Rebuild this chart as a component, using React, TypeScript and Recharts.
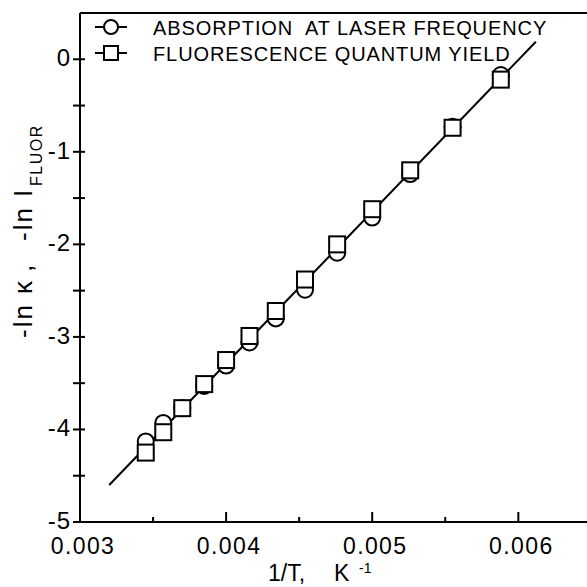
import React from 'react';
import { ScatterChart, Scatter, XAxis, YAxis, ReferenceLine } from 'recharts';

const invT = [0.00345, 0.00357, 0.0037, 0.00385, 0.004, 0.00416, 0.00434, 0.00454, 0.00476, 0.005, 0.00526, 0.00555, 0.00588];
const absorption = [-4.13, -3.93, -3.77, -3.53, -3.31, -3.06, -2.8, -2.49, -2.09, -1.71, -1.24, -0.73, -0.17];
const fluorescence = [-4.25, -4.03, -3.77, -3.51, -3.25, -2.99, -2.72, -2.38, -2.0, -1.62, -1.2, -0.74, -0.22];

// straight-line fit ends
const fitX = [0.0032, 0.00612];
const fitY = [-4.6, 0.19];

const xTicks = [0.003, 0.0035, 0.004, 0.0045, 0.005, 0.0055, 0.006];
const xMajor = ['0.003', '0.004', '0.005', '0.006'];
const yTicks = [-5, -4.5, -4, -3.5, -3, -2.5, -2, -1.5, -1, -0.5, 0];
const yMajor = [-5, -4, -3, -2, -1, 0];

const absData = invT.map((x, i) => ({ x, y: absorption[i] }));
const fluoData = invT.map((x, i) => ({ x, y: fluorescence[i] }));
const fitData = fitX.map((x, i) => ({ x, y: fitY[i] }));

const FONT = '"Liberation Sans", Arial, sans-serif';

const CircleDot = (p: any) => (
  <circle cx={p.cx} cy={p.cy} r={8} fill="#fff" stroke="#000" strokeWidth={2} />
);
const SquareDot = (p: any) => (
  <rect x={p.cx - 8} y={p.cy - 8} width={16} height={16} fill="#fff" stroke="#000" strokeWidth={2} />
);
const NoDot = () => <g />;

const XTick = (p: any) => {
  const v = p.payload.value;
  const label = v.toFixed(3);
  const major = xMajor.includes(label) && Math.abs(v * 1000 - Math.round(v * 1000)) < 1e-6;
  return (
    <g>
      <line x1={p.x} x2={p.x} y1={p.y} y2={p.y - (major ? 10 : 5)} stroke="#000" strokeWidth={2} />
      {major && (
        <text x={p.x + 3} y={p.y + 32} textAnchor="middle" fontSize={23} letterSpacing={1.4} fontFamily={FONT} fill="#000">
          {label}
        </text>
      )}
    </g>
  );
};

const YTick = (p: any) => {
  const v = p.payload.value;
  const major = yMajor.includes(v);
  return (
    <g>
      <line x1={p.x - 7} x2={p.x + 5} y1={p.y} y2={p.y} stroke="#000" strokeWidth={2} />
      {major && (
        <text x={p.x - 9} y={p.y + 7} textAnchor="end" fontSize={24} letterSpacing={1} fontFamily={FONT} fill="#000">
          {v === 0 ? '0' : '-' + Math.abs(v)}
        </text>
      )}
    </g>
  );
};

const LegendBox = () => (
  <svg width={480} height={64} style={{ position: 'absolute', left: 80, top: 10 }}>
    <g fontFamily={FONT} fontSize={20} fill="#000">
      <line x1={15} x2={47} y1={17} y2={17} stroke="#000" strokeWidth={2} />
      <circle cx={31} cy={17} r={7} fill="#fff" stroke="#000" strokeWidth={2} />
      <text x={73} y={25} letterSpacing={0.9} style={{ whiteSpace: 'pre' }}>ABSORPTION  AT LASER FREQUENCY</text>
      <line x1={15} x2={47} y1={43} y2={43} stroke="#000" strokeWidth={2} />
      <rect x={24} y={36} width={14} height={14} fill="#fff" stroke="#000" strokeWidth={2} />
      <text x={73} y={51} letterSpacing={0.9} style={{ whiteSpace: 'pre' }}>FLUORESCENCE QUANTUM YIELD</text>
    </g>
  </svg>
);

export default function App() {
  return (
    <div style={{ position: 'absolute', left: 0, top: 0, width: 587, height: 587, background: '#fff' }}>
      <ScatterChart width={587} height={587} margin={{ top: 13, right: 0, bottom: 0, left: 0 }}>
        <XAxis
          type="number"
          dataKey="x"
          domain={[0.003, 0.00647]}
          ticks={xTicks}
          interval={0}
          tickLine={false}
          tickSize={0}
          tickMargin={0}
          height={65}
          axisLine={{ stroke: '#000', strokeWidth: 2 }}
          tick={<XTick />}
          allowDataOverflow
          label={{
            content: () => (
              <text y={581} fontSize={23} fontFamily={FONT} fill="#000">
                <tspan x={268}>1/T,</tspan>
                <tspan x={334}>K</tspan>
                <tspan x={359} y={573} fontSize={14}>-1</tspan>
              </text>
            ),
          }}
        />
        <YAxis
          type="number"
          dataKey="y"
          domain={[-5, 0.5]}
          ticks={yTicks}
          interval={0}
          tickLine={false}
          tickSize={0}
          tickMargin={0}
          width={80}
          axisLine={{ stroke: '#000', strokeWidth: 2 }}
          tick={<YTick />}
          allowDataOverflow
          label={{
            content: () => (
              <text
                transform="translate(32, 338) rotate(-90)"
                x={0}
                y={0}
                fontSize={26}
                letterSpacing={2}
                fontFamily={FONT}
                fill="#000"
                style={{ whiteSpace: 'pre' }}
              >
                <tspan x={0}>{'-ln \u03ba'}</tspan>
                <tspan x={66}>,</tspan>
                <tspan x={97}>-ln I</tspan>
                <tspan x={152} dy={10} fontSize={16} letterSpacing={1.5}>FLUOR</tspan>
              </text>
            ),
          }}
        />
        <ReferenceLine y={0.5} stroke="#000" strokeWidth={2} />
        <Scatter
          name="fit"
          data={fitData}
          line={{ stroke: '#000', strokeWidth: 2 }}
          shape={NoDot}
          legendType="none"
          isAnimationActive={false}
        />
        <Scatter name="ABSORPTION AT LASER FREQUENCY" data={absData} shape={CircleDot} isAnimationActive={false} />
        <Scatter name="FLUORESCENCE QUANTUM YIELD" data={fluoData} shape={SquareDot} isAnimationActive={false} />
      </ScatterChart>
      <LegendBox />
    </div>
  );
}
